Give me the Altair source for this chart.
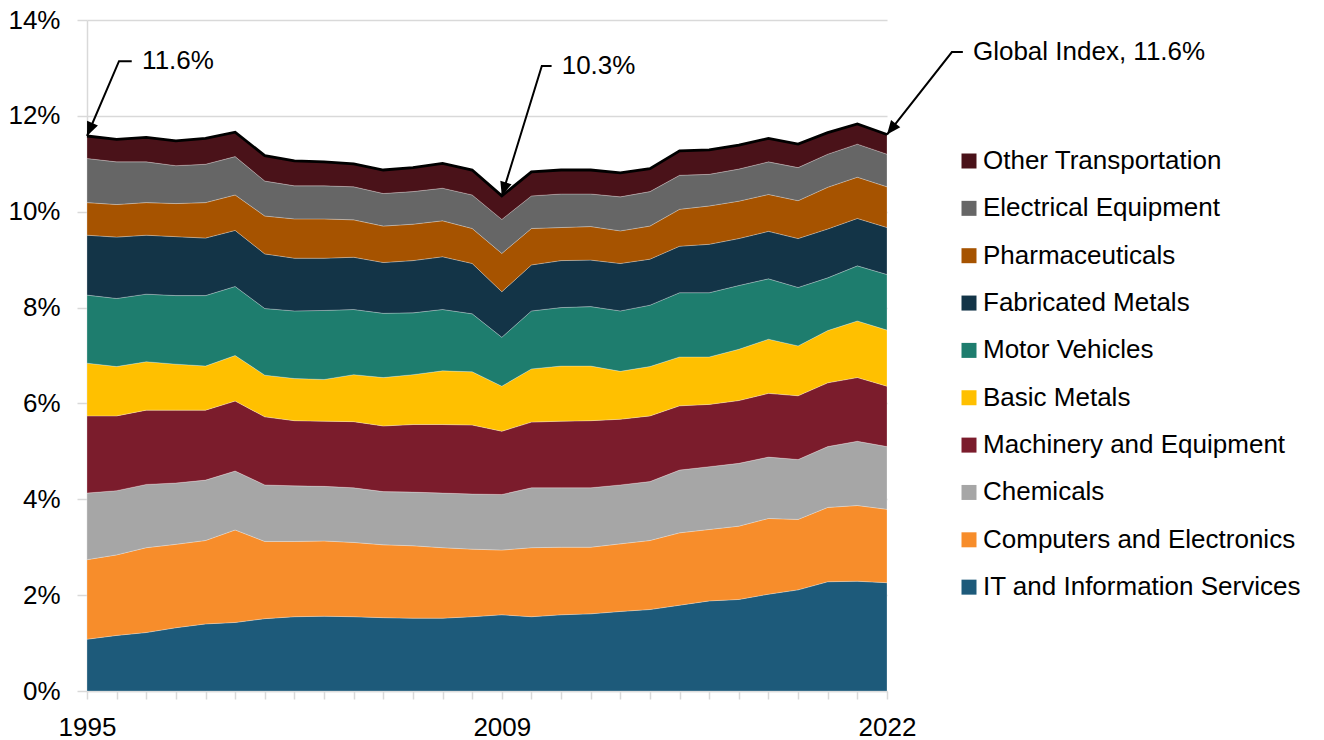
import math

import altair as alt
import pandas as pd

# ---- data: share of value added by sector (%) ----
years = list(range(1995, 2023))

sectors = [
    "IT and Information Services",
    "Computers and Electronics",
    "Chemicals",
    "Machinery and Equipment",
    "Basic Metals",
    "Motor Vehicles",
    "Fabricated Metals",
    "Pharmaceuticals",
    "Electrical Equipment",
    "Other Transportation",
]
sector_colors = [
    "#1d5a7a", "#f78d2b", "#a6a6a6", "#7b1c2c", "#ffc000",
    "#1e7d6e", "#133447", "#a65300", "#666666", "#4a1219",
]

it_info = [1.08, 1.16, 1.22, 1.32, 1.40, 1.43, 1.51, 1.55, 1.56, 1.55, 1.53, 1.52, 1.52, 1.55,
           1.59, 1.55, 1.59, 1.61, 1.66, 1.70, 1.79, 1.88, 1.91, 2.02, 2.11, 2.28, 2.29, 2.26]
computers = [1.66, 1.68, 1.77, 1.74, 1.74, 1.93, 1.61, 1.57, 1.57, 1.55, 1.52, 1.51, 1.47, 1.41,
             1.35, 1.44, 1.41, 1.39, 1.41, 1.44, 1.51, 1.49, 1.53, 1.58, 1.47, 1.55, 1.58, 1.53]
chemicals = [1.39, 1.34, 1.32, 1.28, 1.26, 1.23, 1.18, 1.16, 1.14, 1.14, 1.11, 1.12, 1.14, 1.15,
             1.16, 1.25, 1.24, 1.24, 1.23, 1.23, 1.31, 1.31, 1.31, 1.28, 1.25, 1.27, 1.34, 1.31]
machinery = [1.61, 1.56, 1.55, 1.52, 1.46, 1.46, 1.42, 1.36, 1.36, 1.38, 1.37, 1.41, 1.43, 1.44,
             1.32, 1.37, 1.39, 1.40, 1.37, 1.37, 1.34, 1.30, 1.31, 1.33, 1.33, 1.33, 1.33, 1.26]
basic_metals = [1.10, 1.03, 1.01, 0.96, 0.92, 0.95, 0.87, 0.88, 0.87, 0.98, 1.01, 1.04, 1.12, 1.11,
                0.94, 1.11, 1.15, 1.14, 1.00, 1.03, 1.02, 0.99, 1.07, 1.13, 1.04, 1.09, 1.18, 1.17]
motor_vehicles = [1.42, 1.42, 1.41, 1.43, 1.47, 1.44, 1.39, 1.41, 1.44, 1.36, 1.34, 1.29, 1.28, 1.21,
                  1.02, 1.21, 1.22, 1.24, 1.26, 1.28, 1.34, 1.34, 1.33, 1.26, 1.22, 1.10, 1.15, 1.16]
fabricated = [1.25, 1.28, 1.23, 1.23, 1.20, 1.17, 1.14, 1.10, 1.09, 1.09, 1.06, 1.09, 1.10, 1.05,
              0.95, 0.96, 0.98, 0.97, 0.99, 0.96, 0.97, 1.01, 0.98, 0.99, 1.02, 1.02, 0.99, 0.98]
pharma = [0.68, 0.68, 0.68, 0.69, 0.74, 0.74, 0.79, 0.82, 0.82, 0.78, 0.76, 0.76, 0.75, 0.73,
          0.80, 0.76, 0.69, 0.70, 0.68, 0.69, 0.77, 0.80, 0.78, 0.77, 0.79, 0.87, 0.86, 0.85]
electrical = [0.92, 0.89, 0.85, 0.79, 0.80, 0.80, 0.73, 0.69, 0.69, 0.69, 0.68, 0.68, 0.68, 0.70,
              0.71, 0.68, 0.70, 0.68, 0.71, 0.72, 0.71, 0.66, 0.67, 0.68, 0.69, 0.69, 0.69, 0.68]
other_transport = [0.47, 0.47, 0.51, 0.52, 0.54, 0.51, 0.53, 0.52, 0.50, 0.48, 0.49, 0.50, 0.52, 0.52,
                   0.49, 0.50, 0.50, 0.50, 0.50, 0.48, 0.51, 0.51, 0.50, 0.49, 0.49, 0.45, 0.42, 0.41]

series = [it_info, computers, chemicals, machinery, basic_metals,
          motor_vehicles, fabricated, pharma, electrical, other_transport]

y_ticks = [0, 2, 4, 6, 8, 10, 12, 14]
x_labelled = [1995, 2009, 2022]

# callouts pointing at the index total
callout_years = [1995, 2009, 2022]
callout_prefix = ["", "", "Global Index, "]
elbow_year = [1996.08, 2010.35, 2024.19]
elbow_value = [13.14, 13.04, 13.33]
shoulder_year = [1996.51, 2010.68, 2024.56]
text_year = [1996.86, 2011.02, 2024.90]

# ---- layout / style ----
FONT = "Liberation Sans"
W, H = 800, 671
X_DOMAIN = [1995, 2022]
Y_DOMAIN = [0, 14]

rows = []
for rank, (name, vals) in enumerate(zip(sectors, series)):
    for yr, v in zip(years, vals):
        rows.append({"year": yr, "value": v, "sector": name, "rank": rank})
df = pd.DataFrame(rows)

totals = df.groupby("year")["value"].sum()

legend_order = sectors[::-1]
legend_colors = sector_colors[::-1]

x_scale = alt.Scale(domain=X_DOMAIN, nice=False, zero=False)
y_scale = alt.Scale(domain=Y_DOMAIN, nice=False, zero=True)

label_test = " || ".join(f"datum.value == {v}" for v in x_labelled)
x_axis = alt.Axis(
    title=None, values=years, grid=False,
    labelExpr=f"({label_test}) ? '' + datum.value : ''",
    tickSize=8, tickColor="#d9d9d9", tickWidth=1.5,
    domainColor="#d9d9d9", domainWidth=1.5,
    labelFont=FONT, labelFontSize=26, labelColor="#000000",
    labelPadding=15, labelFlush=False, labelOverlap=False,
)
y_axis = alt.Axis(
    title=None, values=y_ticks,
    labelExpr="datum.value + '%'",
    grid=True, gridColor="#d9d9d9", gridWidth=1.5,
    tickSize=10, tickColor="#d9d9d9", tickWidth=1.5,
    domainColor="#d9d9d9", domainWidth=1.5,
    labelFont=FONT, labelFontSize=26, labelColor="#000000",
    labelPadding=17,
)

areas = alt.Chart(df).mark_area(
    opacity=1, stroke="#ffffff", strokeWidth=0.5, strokeOpacity=0.5
).encode(
    x=alt.X("year:Q", scale=x_scale, axis=x_axis),
    y=alt.Y("value:Q", stack="zero", scale=y_scale, axis=y_axis),
    color=alt.Color(
        "sector:N",
        scale=alt.Scale(domain=legend_order, range=legend_colors),
        legend=alt.Legend(
            title=None, orient="none", legendX=869, legendY=128,
            symbolType="square", symbolSize=225, symbolStrokeWidth=0,
            symbolOpacity=1, labelFont=FONT, labelFontSize=26,
            labelColor="#000000", labelOffset=1, rowPadding=21.35,
            labelLimit=600, padding=0,
        ),
    ),
    order=alt.Order("rank:Q", sort="ascending"),
)

total_line = alt.Chart(df).transform_aggregate(
    value="sum(value)", groupby=["year"]
).mark_line(color="#000000", strokeWidth=2.8).encode(
    x=alt.X("year:Q", scale=x_scale, axis=x_axis),
    y=alt.Y("value:Q", scale=y_scale, axis=y_axis),
)

# leader lines: shoulder -> elbow -> tip on the total
leader_rows, head_rows, text_rows = [], [], []
px_per_year = W / (X_DOMAIN[1] - X_DOMAIN[0])
px_per_pct = H / (Y_DOMAIN[1] - Y_DOMAIN[0])
for i, yr in enumerate(callout_years):
    tip = float(totals.loc[yr])
    leader_rows += [
        {"id": i, "seq": 0, "year": shoulder_year[i], "value": elbow_value[i]},
        {"id": i, "seq": 1, "year": elbow_year[i], "value": elbow_value[i]},
        {"id": i, "seq": 2, "year": yr, "value": tip},
    ]
    dx = (elbow_year[i] - yr) * px_per_year
    dy = -(elbow_value[i] - tip) * px_per_pct
    norm = math.hypot(dx, dy)
    ang = math.degrees(math.atan2(-dx / norm, dy / norm)) % 360
    head_rows.append({"year": yr, "value": tip, "angle": ang})
    text_rows.append({"year": text_year[i], "value": elbow_value[i],
                      "label": f"{callout_prefix[i]}{tip:.1f}%"})

leaders = alt.Chart(pd.DataFrame(leader_rows)).mark_line(
    color="#000000", strokeWidth=2
).encode(
    x=alt.X("year:Q", scale=x_scale, axis=x_axis),
    y=alt.Y("value:Q", scale=y_scale, axis=y_axis),
    detail="id:N",
    order="seq:Q",
)

heads = alt.Chart(pd.DataFrame(head_rows)).mark_point(
    shape="M0,0L-0.42,1L0.42,1Z", filled=True, color="#000000",
    size=784, opacity=1, strokeWidth=0,
).encode(
    x=alt.X("year:Q", scale=x_scale, axis=x_axis),
    y=alt.Y("value:Q", scale=y_scale, axis=y_axis),
    angle=alt.Angle("angle:Q", scale=None),
)

texts = alt.Chart(pd.DataFrame(text_rows)).mark_text(
    align="left", baseline="middle", font=FONT, fontSize=26, color="#000000"
).encode(
    x=alt.X("year:Q", scale=x_scale, axis=x_axis),
    y=alt.Y("value:Q", scale=y_scale, axis=y_axis),
    text="label:N",
)

chart = alt.layer(areas, total_line, leaders, heads, texts).properties(
    width=W, height=H,
    padding={"left": 87, "top": 20, "right": 437, "bottom": 49},
    autosize=alt.AutoSizeParams(type="none"),
    background="#ffffff",
).configure_view(strokeWidth=0)

chart.save("out.html", embed_options={"renderer": "svg", "actions": False})
